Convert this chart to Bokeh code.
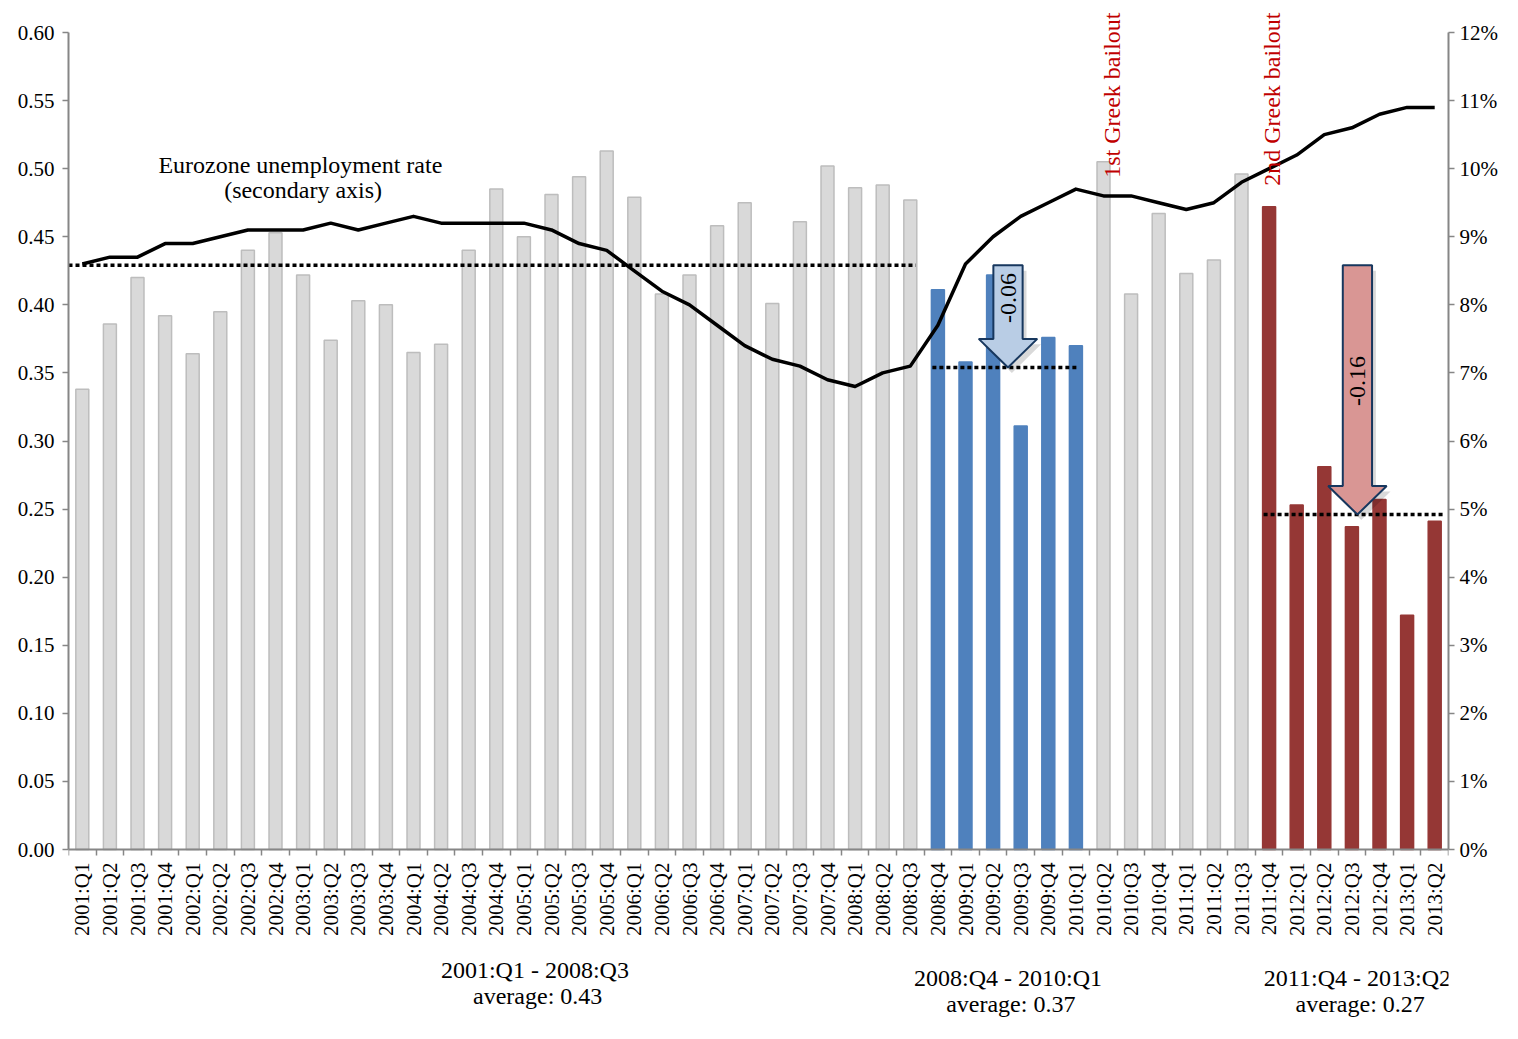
import math
from bokeh.plotting import figure
from bokeh.models import (Range1d, LinearAxis, FixedTicker, Label,
                          PrintfTickFormatter, ColumnDataSource)
from bokeh.embed import file_html
from bokeh.resources import INLINE

# ---------------- data ----------------
quarters = [
    "2001:Q1", "2001:Q2", "2001:Q3", "2001:Q4", "2002:Q1", "2002:Q2", "2002:Q3", "2002:Q4",
    "2003:Q1", "2003:Q2", "2003:Q3", "2003:Q4", "2004:Q1", "2004:Q2", "2004:Q3", "2004:Q4",
    "2005:Q1", "2005:Q2", "2005:Q3", "2005:Q4", "2006:Q1", "2006:Q2", "2006:Q3", "2006:Q4",
    "2007:Q1", "2007:Q2", "2007:Q3", "2007:Q4", "2008:Q1", "2008:Q2", "2008:Q3", "2008:Q4",
    "2009:Q1", "2009:Q2", "2009:Q3", "2009:Q4", "2010:Q1", "2010:Q2", "2010:Q3", "2010:Q4",
    "2011:Q1", "2011:Q2", "2011:Q3", "2011:Q4", "2012:Q1", "2012:Q2", "2012:Q3", "2012:Q4",
    "2013:Q1", "2013:Q2",
]

bar_values = [
    0.338, 0.386, 0.420, 0.392, 0.364, 0.395, 0.440, 0.453,
    0.422, 0.374, 0.403, 0.400, 0.365, 0.371, 0.440, 0.485,
    0.450, 0.481, 0.494, 0.513, 0.479, 0.408, 0.422, 0.458,
    0.475, 0.401, 0.461, 0.502, 0.486, 0.488, 0.477, 0.411,
    0.358, 0.422, 0.311, 0.376, 0.370, 0.505, 0.408, 0.467,
    0.423, 0.433, 0.496, 0.472, 0.253, 0.281, 0.237, 0.257,
    0.172, 0.241,
]

# period of each bar: 0 = normal (grey), 1 = crisis (blue), 2 = bailout (red)
bar_period = [0] * 31 + [1] * 6 + [0] * 6 + [2] * 7

unemployment = [
    8.6, 8.7, 8.7, 8.9, 8.9, 9.0, 9.1, 9.1,
    9.1, 9.2, 9.1, 9.2, 9.3, 9.2, 9.2, 9.2,
    9.2, 9.1, 8.9, 8.8, 8.5, 8.2, 8.0, 7.7,
    7.4, 7.2, 7.1, 6.9, 6.8, 7.0, 7.1, 7.7,
    8.6, 9.0, 9.3, 9.5, 9.7, 9.6, 9.6, 9.5,
    9.4, 9.5, 9.8, 10.0, 10.2, 10.5, 10.6, 10.8,
    10.9, 10.9,
]

avg_levels = [0.429, 0.354, 0.246]
period_titles = ["2001:Q1 - 2008:Q3", "2008:Q4 - 2010:Q1", "2011:Q4 - 2013:Q2"]
period_avg_texts = ["average: 0.43", "average: 0.37", "average: 0.27"]
arrow_texts = ["-0.06", "-0.16"]
event_texts = ["1st Greek bailout", "2nd Greek bailout"]

left_ticks = [0.00, 0.05, 0.10, 0.15, 0.20, 0.25, 0.30, 0.35, 0.40, 0.45, 0.50, 0.55, 0.60]
right_ticks = [0, 1, 2, 3, 4, 5, 6, 7, 8, 9, 10, 11, 12]
LEFT_MAX = 0.6
RIGHT_MAX = 12

# ---------------- styles / layout ----------------
FONT = "Liberation Serif"
AXIS_COL = "#868686"
fill_by_period = ["#D9D9D9", "#4F81BD", "#953735"]
line_by_period = ["#BDBDBD", "#4F81BD", "#953735"]

avg_x_start = [-0.5, 30.8, 42.8]
avg_x_end = [30.2, 36.1, 49.3]
period_centers = [16.4, 33.54, 46.2]
arrow_centers = [33.54, 46.2]
arrow_fills = ["#B9CDE5", "#D99694"]
event_x = [37.3, 43.1]

W, H = 1502, 1023
BORDER_L, BORDER_R = 68, 54
PLOT_TOP = 32          # canvas px of value LEFT_MAX
PLOT_H = 817           # canvas px between 0 and LEFT_MAX
px_per_unit = PLOT_H / LEFT_MAX
y_hi = LEFT_MAX + PLOT_TOP / px_per_unit
y_lo = -(H - PLOT_TOP - PLOT_H) / px_per_unit
scale_r = RIGHT_MAX / LEFT_MAX

def px_below_zero(px):
    return -px / px_per_unit

def px_above_top(px):
    return LEFT_MAX + px / px_per_unit

n = len(quarters)
xs = list(range(n))

p = figure(width=W, height=H, output_backend="svg", toolbar_location=None,
           x_range=Range1d(-0.5, n - 0.5), y_range=Range1d(y_lo, y_hi),
           min_border_left=BORDER_L, min_border_right=BORDER_R, min_border_top=0,
           min_border_bottom=0, background_fill_color="white",
           border_fill_color="white", y_axis_location=None)
p.outline_line_color = None
p.grid.visible = False

p.extra_y_ranges = {"unemp": Range1d(y_lo * scale_r, y_hi * scale_r)}

# bars
src = ColumnDataSource(dict(
    x=xs, top=bar_values,
    fill=[fill_by_period[k] for k in bar_period],
    line=[line_by_period[k] for k in bar_period],
))
p.vbar(x="x", top="top", width=0.47, bottom=0, source=src,
       fill_color="fill", line_color="line", line_width=1.5)

# average dotted lines
for lvl, x0, x1 in zip(avg_levels, avg_x_start, avg_x_end):
    p.line([x0, x1], [lvl, lvl], line_color="black", line_width=3.5,
           line_dash="4 3")

# unemployment line
p.line(xs, unemployment, y_range_name="unemp", line_color="black", line_width=3.5,
       line_join="round")

# arrows
def arrow_shape(cx, top, tip, shaft_hw=0.53, head_hw=1.06, head_len=0.021):
    ax = [cx - shaft_hw, cx + shaft_hw, cx + shaft_hw, cx + head_hw, cx,
          cx - head_hw, cx - shaft_hw]
    ay = [top, top, tip + head_len, tip + head_len, tip, tip + head_len,
          tip + head_len]
    return ax, ay

for i, (cx, fc) in enumerate(zip(arrow_centers, arrow_fills)):
    ax, ay = arrow_shape(cx, avg_levels[0], avg_levels[i + 1])
    p.patch([v + 0.14 for v in ax], [v - 0.004 for v in ay], fill_color="black",
            fill_alpha=0.15, line_color=None)
    p.patch(ax, ay, fill_color=fc, line_color="#17375E", line_width=2)

# axes
left = LinearAxis(ticker=FixedTicker(ticks=left_ticks),
                  formatter=PrintfTickFormatter(format="%.2f"),
                  bounds=(0, LEFT_MAX))
right = LinearAxis(y_range_name="unemp", ticker=FixedTicker(ticks=right_ticks),
                   formatter=PrintfTickFormatter(format="%d%%"),
                   bounds=(0, RIGHT_MAX))
p.add_layout(left, "left")
p.add_layout(right, "right")

for ax in [left, right]:
    ax.axis_line_color = AXIS_COL
    ax.axis_line_width = 2
    ax.major_tick_line_color = AXIS_COL
    ax.major_tick_line_width = 1.5
    ax.major_tick_in = 0
    ax.major_tick_out = 6
    ax.minor_tick_line_color = None
    ax.major_label_text_font = FONT
    ax.major_label_text_font_size = "21px"
    ax.major_label_text_color = "black"
left.major_label_standoff = 8
right.major_label_standoff = 5

xa = p.xaxis[0]
xa.fixed_location = 0
xa.ticker = FixedTicker(ticks=xs, minor_ticks=[i - 0.5 for i in range(n + 1)])
xa.major_label_overrides = {i: q for i, q in enumerate(quarters)}
xa.major_label_orientation = math.pi / 2
xa.axis_line_color = AXIS_COL
xa.axis_line_width = 2
xa.major_tick_line_color = None
xa.minor_tick_line_color = AXIS_COL
xa.minor_tick_line_width = 1.5
xa.minor_tick_in = 0
xa.minor_tick_out = 6
xa.major_label_text_font = FONT
xa.major_label_text_font_size = "21px"
xa.major_label_text_color = "black"
xa.major_label_standoff = 7

# text annotations
def add_label(x, y, text, size="24px", color="black", angle=0.0, align="center",
              baseline="middle"):
    p.add_layout(Label(x=x, y=y, text=text, text_font=FONT, text_font_size=size,
                       text_color=color, angle=angle, text_align=align,
                       text_baseline=baseline))

add_label(7.9, 0.503, "Eurozone unemployment rate")
add_label(8.0, 0.484, "(secondary axis)")

for x, t in zip(event_x, event_texts):
    add_label(x, px_above_top(20), t, size="24px", color="#C00000",
              angle=math.pi / 2, align="right")

arrow_text_y = [0.405, 0.344]
for cx, t, ty in zip(arrow_centers, arrow_texts, arrow_text_y):
    add_label(cx, ty, t, angle=math.pi / 2)

title_px = [120, 128, 128]
avg_px = [146, 154, 154]
for cx, t1, t2, y1, y2 in zip(period_centers, period_titles, period_avg_texts,
                              title_px, avg_px):
    add_label(cx, px_below_zero(y1), t1)
    add_label(cx + 0.1, px_below_zero(y2), t2)

open("out.html", "w").write(file_html(p, INLINE))
